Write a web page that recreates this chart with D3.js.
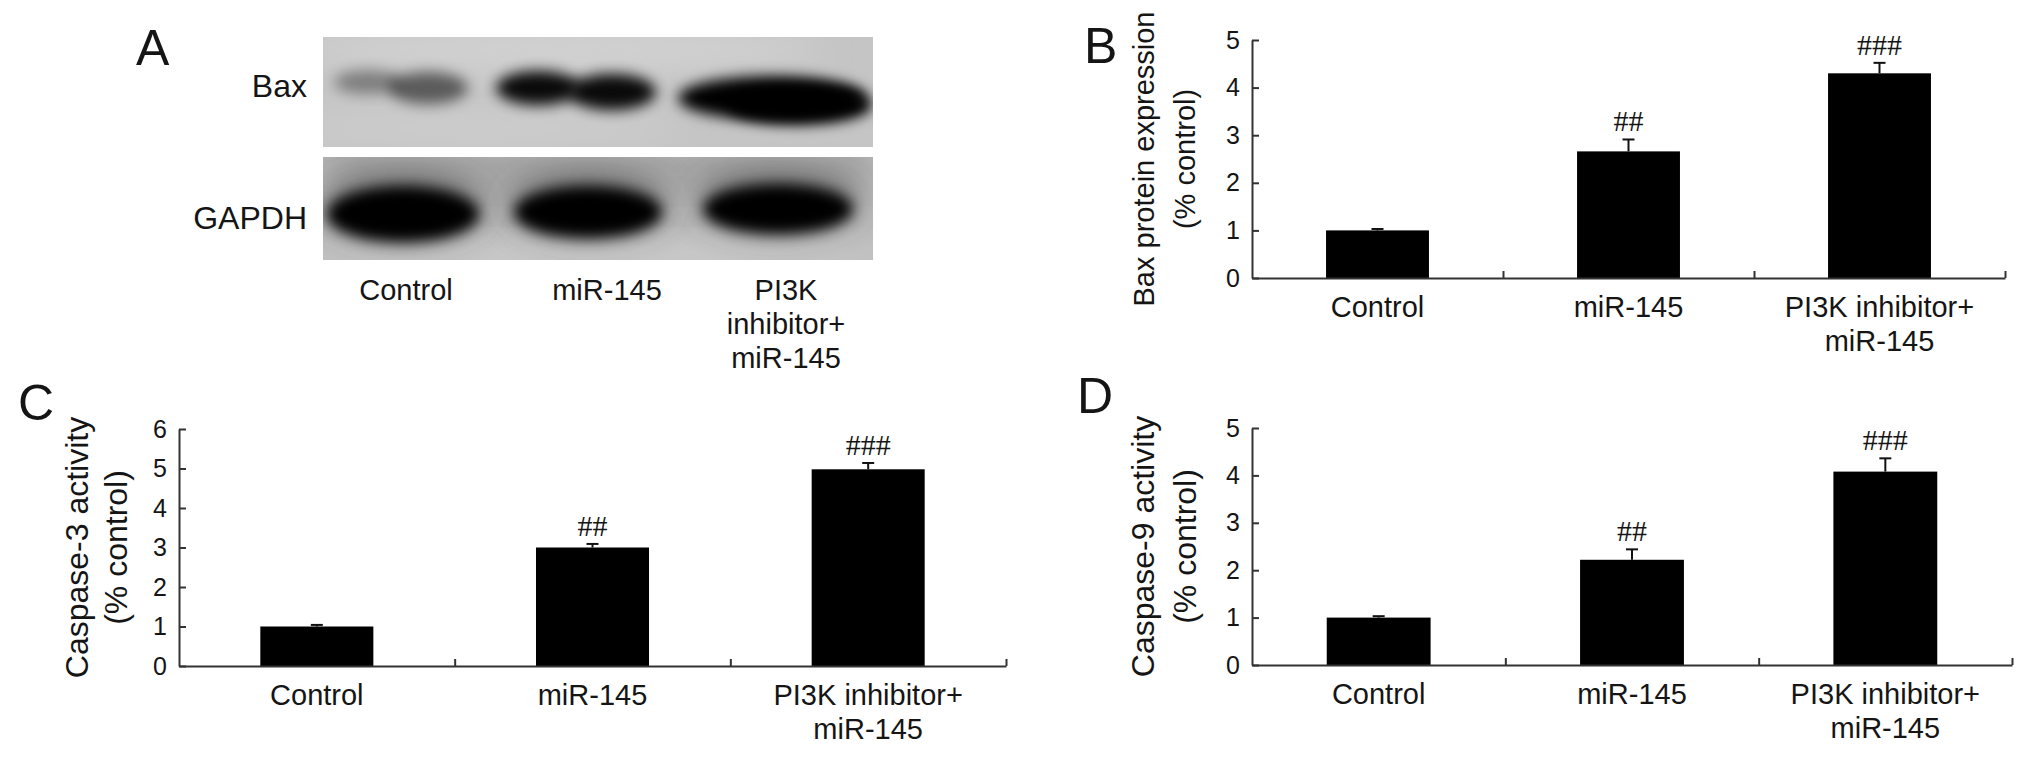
<!DOCTYPE html>
<html>
<head>
<meta charset="utf-8">
<script src="https://cdn.jsdelivr.net/npm/d3@7"></script>
<style>
  body { margin: 0; background: #fff; }
  svg { display: block; }
  text { font-family: "Liberation Sans", Arial, sans-serif; fill: #151515; }
</style>
</head>
<body>
<svg></svg>
<script>
// groups shown on every panel
const categories = ["Control", "miR-145", "PI3K inhibitor+ miR-145"];
const chartLabels = [["Control"], ["miR-145"], ["PI3K inhibitor+", "miR-145"]];
const blotLabels = [["Control"], ["miR-145"], ["PI3K", "inhibitor+", "miR-145"]];
const marks = ["", "##", "###"];

// B: Bax protein expression
const baxMeans = [1.0, 2.66, 4.30];
const baxErrors = [0.03, 0.25, 0.22];
const baxTicks = [0, 1, 2, 3, 4, 5];

// C: caspase-3 activity
const cas3Means = [1.0, 3.0, 4.98];
const cas3Errors = [0.04, 0.09, 0.16];
const cas3Ticks = [0, 1, 2, 3, 4, 5, 6];

// D: caspase-9 activity
const cas9Means = [1.0, 2.22, 4.08];
const cas9Errors = [0.03, 0.22, 0.28];
const cas9Ticks = [0, 1, 2, 3, 4, 5];

// relative band darkness on the blot (Bax row, GAPDH row)
const baxBand = [0.6, 0.95, 1.0];
const gapdhBand = [1.0, 1.0, 1.0];

let svg = d3.select("svg")
  .attr("width", 2032)
  .attr("height", 757)
  .attr("viewBox", "0 0 2032 757");

const defs = svg.append("defs");
defs.append("filter").attr("id", "blur").attr("x", "-50%").attr("y", "-50%").attr("width", "200%").attr("height", "200%")
  .append("feGaussianBlur").attr("stdDeviation", 7);
defs.append("filter").attr("id", "soft").attr("x", "-50%").attr("y", "-50%").attr("width", "200%").attr("height", "200%")
  .append("feGaussianBlur").attr("stdDeviation", 16);

function panelLetter(t, x, y) {
  svg.append("text").attr("x", x).attr("y", y).attr("font-size", 50).text(t);
}

// ---------- A: western blot ----------
function drawBlot() {
  const g = svg.append("g");
  const left = 323, right = 873;
  const strips = [
    { top: 37, bottom: 147, bg: "#c5c5c5", bands: baxBand },
    { top: 157, bottom: 260, bg: "#bcbcbc", bands: gapdhBand }
  ];
  strips.forEach((s, k) => {
    defs.append("clipPath").attr("id", "strip" + k)
      .append("rect").attr("x", left).attr("y", s.top).attr("width", right - left).attr("height", s.bottom - s.top);
    const sg = g.append("g").attr("clip-path", `url(#strip${k})`);
    sg.append("rect").attr("x", left).attr("y", s.top).attr("width", right - left).attr("height", s.bottom - s.top)
      .attr("fill", s.bg);
    if (k === 0) {
      // slightly lighter upper area
      sg.append("ellipse").attr("cx", 560).attr("cy", 50).attr("rx", 260).attr("ry", 22)
        .attr("fill", "#d2d2d2").attr("filter", "url(#soft)");
      sg.append("ellipse").attr("cx", 480).attr("cy", 128).attr("rx", 200).attr("ry", 16)
        .attr("fill", "#cecece").attr("filter", "url(#soft)");
      const lobes = [
        [[368, 82, 34, 12, 0.6], [428, 88, 40, 16, 0.9]],
        [[538, 88, 42, 17, 1], [612, 92, 44, 18, 1]],
        [[772, 98, 94, 22, 1], [800, 105, 72, 19, 1]]
      ];
      lobes.forEach((lane, i) => lane.forEach(l => {
        sg.append("ellipse").attr("cx", l[0]).attr("cy", l[1]).attr("rx", l[2]).attr("ry", l[3])
          .attr("fill", "#000").attr("opacity", l[4] * s.bands[i]).attr("filter", "url(#blur)");
      }));
    } else {
      // darker smear above the GAPDH bands
      sg.append("rect").attr("x", left).attr("y", s.top - 10).attr("width", right - left).attr("height", 40)
        .attr("fill", "#8e8e8e").attr("opacity", 0.55).attr("filter", "url(#soft)");
      sg.append("ellipse").attr("cx", 600).attr("cy", 255).attr("rx", 300).attr("ry", 14)
        .attr("fill", "#cdcdcd").attr("filter", "url(#soft)");
      const lobes = [[403, 214, 76, 28], [588, 212, 74, 26], [778, 209, 75, 25]];
      lobes.forEach((l, i) => {
        sg.append("ellipse").attr("cx", l[0]).attr("cy", l[1] - 8).attr("rx", l[2] + 8).attr("ry", l[3] + 6)
          .attr("fill", "#333").attr("opacity", 0.5).attr("filter", "url(#soft)");
        sg.append("ellipse").attr("cx", l[0]).attr("cy", l[1]).attr("rx", l[2]).attr("ry", l[3])
          .attr("fill", "#000").attr("opacity", s.bands[i]).attr("filter", "url(#blur)");
      });
    }
  });

  g.append("text").attr("x", 307).attr("y", 97).attr("text-anchor", "end").attr("font-size", 32).text("Bax");
  g.append("text").attr("x", 307).attr("y", 229).attr("text-anchor", "end").attr("font-size", 32).text("GAPDH");

  const laneX = [406, 607, 786];
  blotLabels.forEach((lines, i) => {
    lines.forEach((t, j) => {
      g.append("text").attr("x", laneX[i]).attr("y", 300 + j * 34)
        .attr("text-anchor", "middle").attr("font-size", 29).text(t);
    });
  });
}

// ---------- B, C, D: bar charts ----------
function barPanel(o) {
  const g = svg.append("g");
  const x = d3.scaleBand().domain(categories).range([o.x0, o.x1])
    .paddingInner(0.59).paddingOuter(0.295);
  const y = d3.scaleLinear().domain([0, o.max]).range([o.y0, o.yTop]);
  const cx = i => x(categories[i]) + x.bandwidth() / 2;

  g.selectAll("rect.bar").data(o.means).join("rect")
    .attr("class", "bar")
    .attr("x", (d, i) => x(categories[i]))
    .attr("y", d => y(d))
    .attr("width", x.bandwidth())
    .attr("height", d => o.y0 - y(d))
    .attr("fill", "#000");

  // upper error bars
  const eb = g.selectAll("g.err").data(o.means).join("g").attr("class", "err");
  eb.append("line")
    .attr("x1", (d, i) => cx(i)).attr("x2", (d, i) => cx(i))
    .attr("y1", d => y(d))
    .attr("y2", (d, i) => y(d + o.errors[i]))
    .attr("stroke", "#111").attr("stroke-width", 2);
  eb.append("line")
    .attr("x1", (d, i) => cx(i) - 6).attr("x2", (d, i) => cx(i) + 6)
    .attr("y1", (d, i) => y(d + o.errors[i]))
    .attr("y2", (d, i) => y(d + o.errors[i]))
    .attr("stroke", "#111").attr("stroke-width", 2);

  g.selectAll("text.mark").data(o.means).join("text")
    .attr("class", "mark")
    .attr("x", (d, i) => cx(i))
    .attr("y", (d, i) => y(d + o.errors[i]) - 8)
    .attr("text-anchor", "middle")
    .attr("font-size", 30)
    .style("font-family", "'Liberation Serif', 'Times New Roman', serif")
    .text((d, i) => marks[i]);

  // y axis, ticks pointing inward
  const ya = g.append("g")
    .attr("transform", `translate(${o.x0},0)`)
    .call(d3.axisLeft(y).tickValues(o.ticks).tickSizeInner(-7).tickSizeOuter(0)
      .tickPadding(12).tickFormat(d3.format("d")));
  ya.attr("font-family", null).attr("font-size", null);
  ya.selectAll("path, line").attr("stroke", "#333").attr("stroke-width", 2);
  ya.selectAll("text").attr("font-size", 25).attr("fill", "#151515");

  // x axis with ticks at group boundaries
  const xb = d3.scaleLinear().domain([0, categories.length]).range([o.x0, o.x1]);
  const xa = g.append("g")
    .attr("transform", `translate(0,${o.y0})`)
    .call(d3.axisBottom(xb).tickValues([1, 2, 3]).tickSizeInner(-7).tickSizeOuter(0).tickFormat(""));
  xa.selectAll("path, line").attr("stroke", "#333").attr("stroke-width", 2);

  chartLabels.forEach((lines, i) => {
    lines.forEach((t, j) => {
      g.append("text")
        .attr("x", cx(i))
        .attr("y", o.y0 + 39 + j * 34)
        .attr("text-anchor", "middle")
        .attr("font-size", 29)
        .text(t);
    });
  });

  // rotated y label, baselines given
  o.yLabel.forEach((t, j) => {
    g.append("text")
      .attr("transform", `translate(${o.yLabelX[j]},${(o.y0 + o.yTop) / 2}) rotate(-90)`)
      .attr("text-anchor", "middle")
      .attr("font-size", o.yLabelSize)
      .text(t);
  });
}

drawBlot();
panelLetter("A", 136, 65);

barPanel({
  x0: 1252, x1: 2005, y0: 278, yTop: 40, max: 5,
  means: baxMeans, errors: baxErrors, ticks: baxTicks,
  yLabel: ["Bax protein expression", "(% control)"], yLabelX: [1154, 1195], yLabelSize: 29
});
panelLetter("B", 1084, 63);

barPanel({
  x0: 179, x1: 1006, y0: 666, yTop: 429, max: 6,
  means: cas3Means, errors: cas3Errors, ticks: cas3Ticks,
  yLabel: ["Caspase-3 activity", "(% control)"], yLabelX: [88, 127], yLabelSize: 32
});
panelLetter("C", 18, 420);

barPanel({
  x0: 1252, x1: 2012, y0: 665, yTop: 428, max: 5,
  means: cas9Means, errors: cas9Errors, ticks: cas9Ticks,
  yLabel: ["Caspase-9 activity", "(% control)"], yLabelX: [1154, 1196], yLabelSize: 32
});
panelLetter("D", 1077, 413);
</script>
</body>
</html>
